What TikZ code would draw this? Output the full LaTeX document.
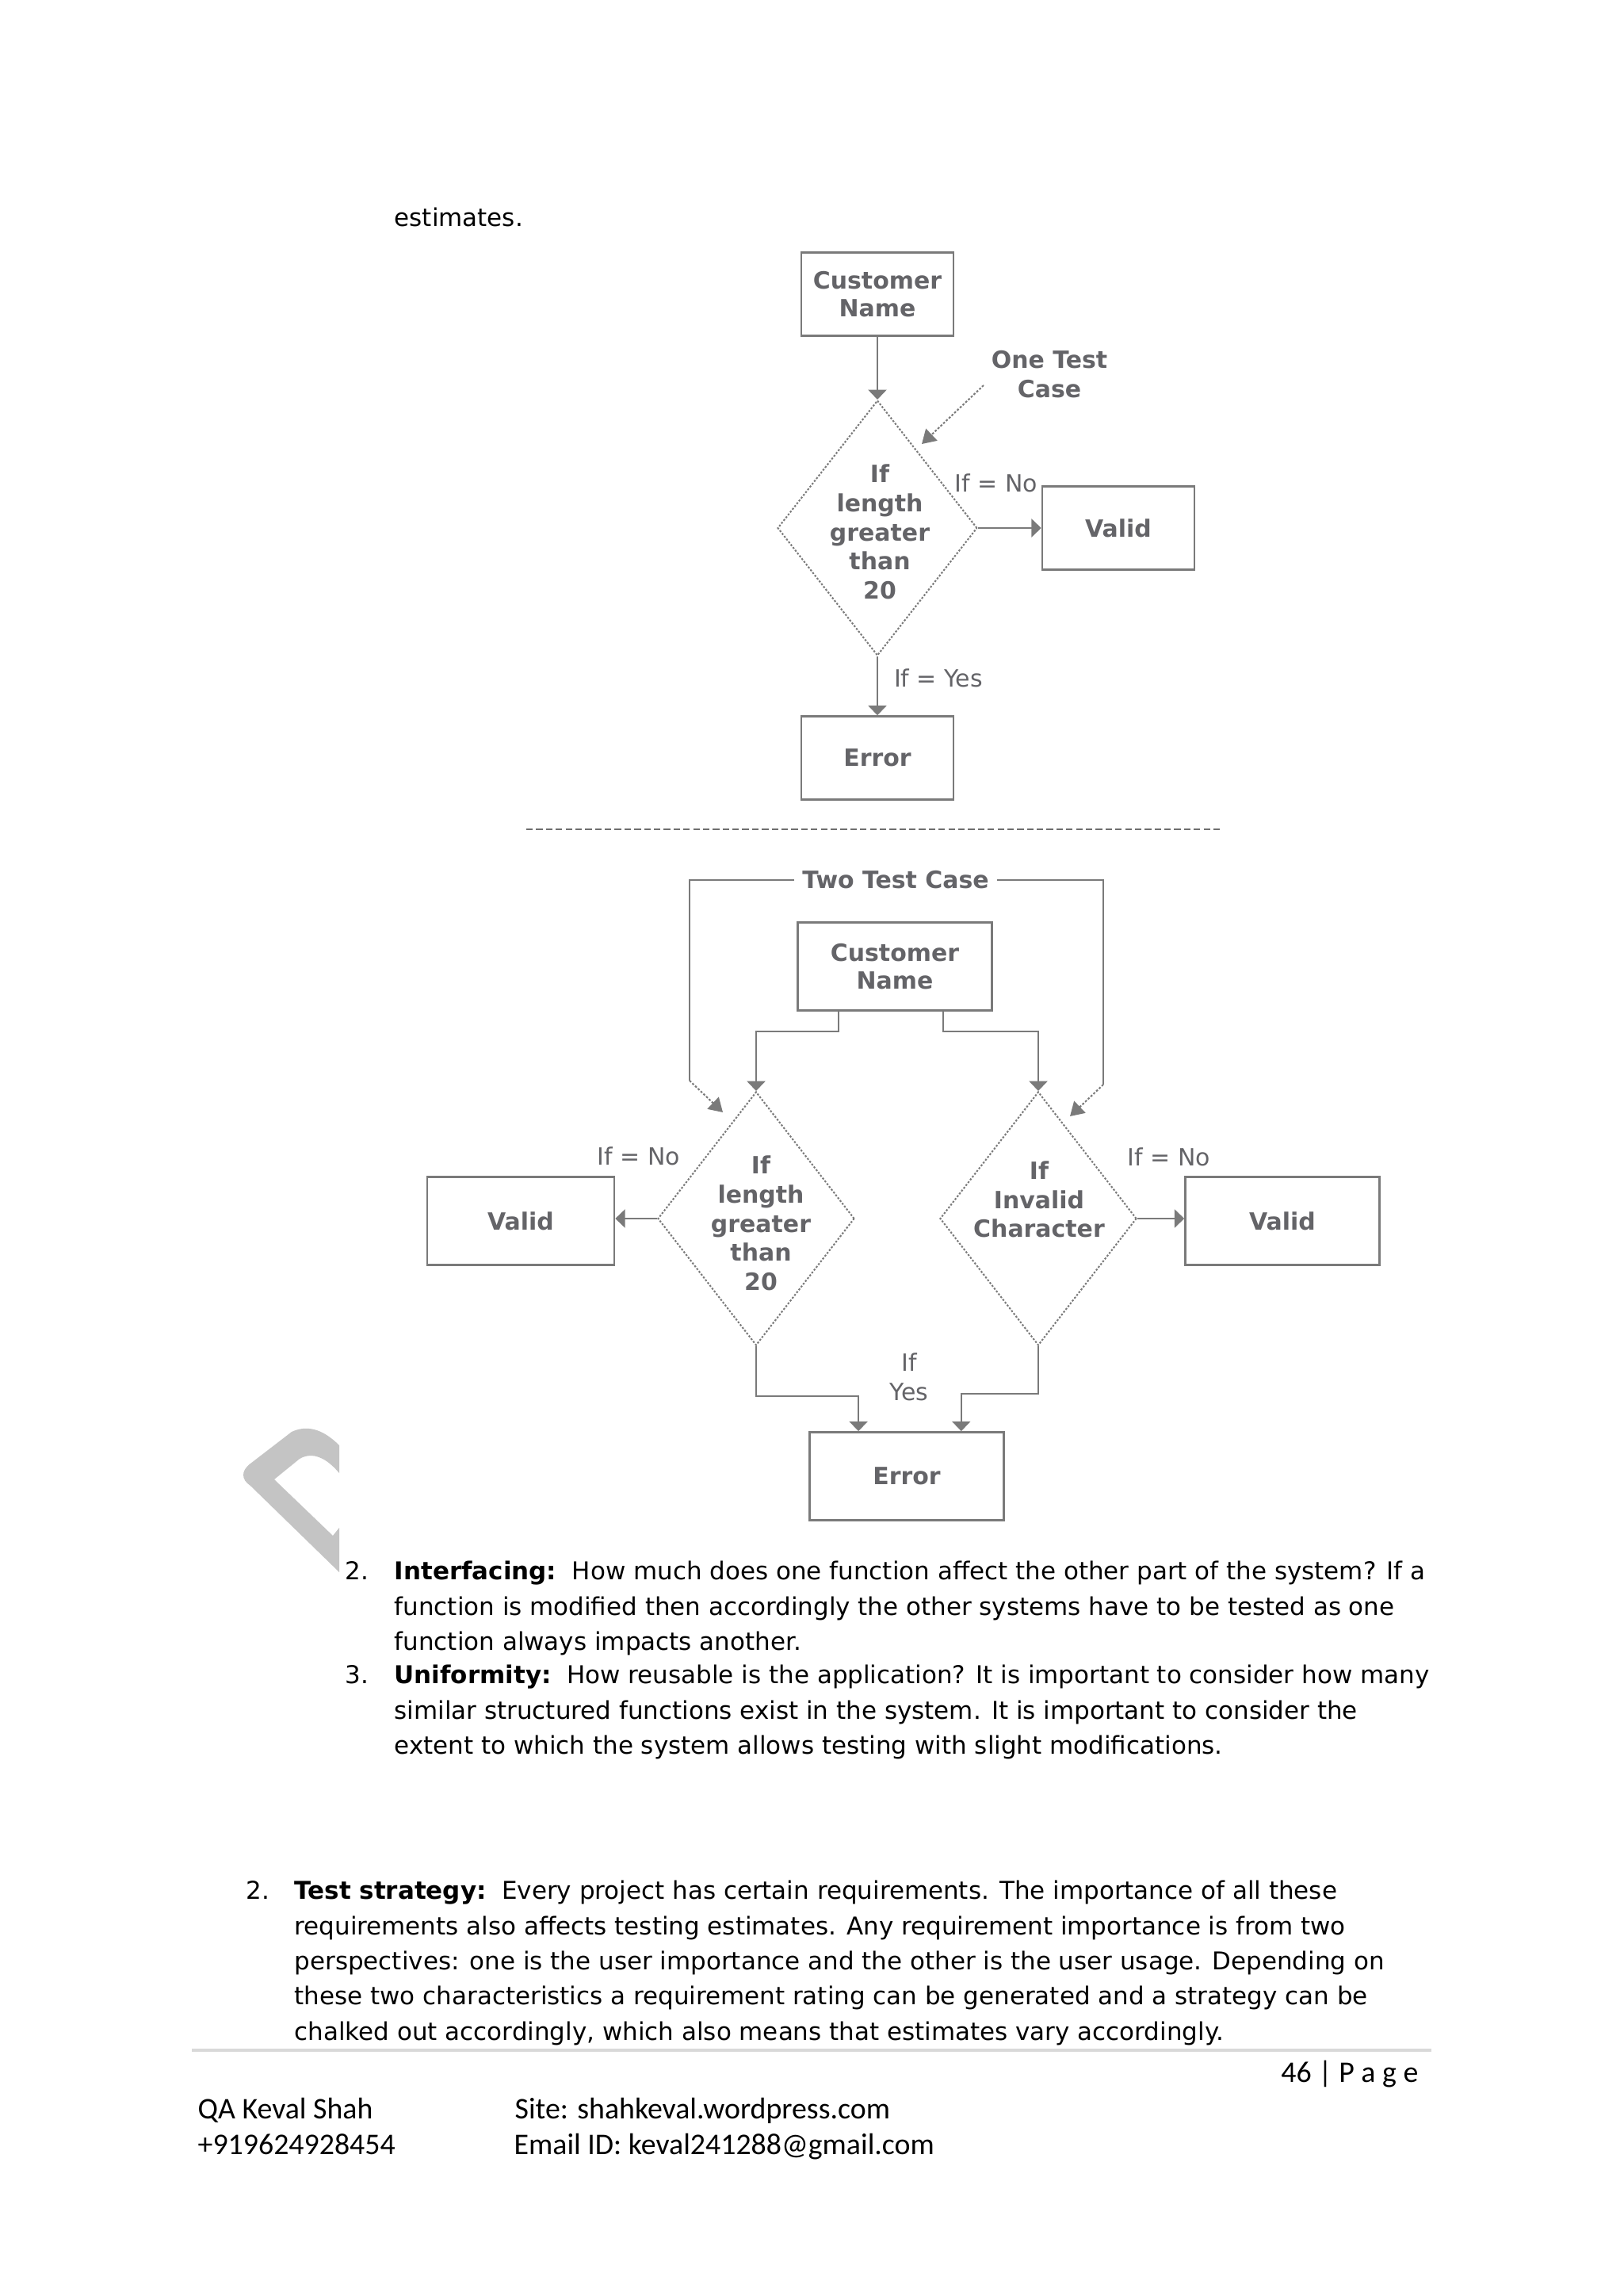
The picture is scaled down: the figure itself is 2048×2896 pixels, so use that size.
\documentclass[tikz,border=0pt]{standalone}
\usepackage{fontspec}
\setmainfont{DejaVu Sans}
\newfontfamily\footfont{Carlito}
\usetikzlibrary{shapes.geometric,arrows.meta}
\definecolor{flow}{RGB}{122,122,122}
\definecolor{flowtext}{RGB}{100,100,104}
\definecolor{rulegray}{RGB}{217,217,217}
\definecolor{wmark}{RGB}{196,196,196}

\begin{document}
\begin{tikzpicture}[x=0.29067pt, y=-0.29067pt,
box/.style={draw=flow, line width=0.75pt, minimum width=55.8pt, minimum height=30.5pt,
    inner sep=0pt, align=center, text=flowtext, font=\fontsize{8.7}{10.3}\selectfont\bfseries},
bigbox/.style={box, minimum width=71.2pt, minimum height=32.3pt},
decision/.style={diamond, draw=flow, line width=0.6pt, dash pattern=on 0.7pt off 0.6pt,
    minimum width=73.2pt, minimum height=93.6pt, inner sep=0pt},
dtext/.style={align=center, text=flowtext, font=\fontsize{8.7}{10.7}\selectfont\bfseries, inner sep=0pt},
lbl/.style={align=center, text=flowtext, font=\fontsize{8.7}{10.7}\selectfont, inner sep=0pt},
link/.style={draw=flow, line width=0.75pt},
arr/.style={link, -{Triangle[width=6.7pt, length=3.6pt]}},
hint/.style={draw=flow, line width=0.6pt, dash pattern=on 0.8pt off 0.6pt,
    -{Triangle[width=6pt, length=5pt]}},
body/.style={inner sep=0pt, font=\fontsize{9}{12.9}\selectfont},
para/.style={body, anchor=north west, align=left},
foot/.style={inner sep=0pt, anchor=base west, font=\footfont\fontsize{11}{13.4}\selectfont}]

\path[fill=white] (0,0) rectangle (2048,2896);
\useasboundingbox (0,0) rectangle (2048,2896);

% watermark piece at the left margin
\fill[wmark] (428,1823) .. controls (405,1800) and (385,1798) .. (368,1806) -- (316,1846)
  .. controls (304,1855) and (304,1866) .. (316,1874) -- (428,1983) -- (428,1927)
  -- (420,1937) -- (346,1866) -- (378,1840) .. controls (395,1830) and (413,1840) .. (428,1858) -- cycle;

\node[body, anchor=base west] (est) at (497,285) {estimates.};

% one test case
\node[box] (cn1) at (1107,371) {Customer\\Name};
\node[decision] (d1) at (1107,666) {};
\node[dtext] (d1t) at (1110,671) {If\\length\\greater\\than\\20};
\node[box] (v1) at (1411,666) {Valid};
\node[box] (e1) at (1107,956) {Error};
\node[dtext] (otc) at (1324,472) {One Test\\Case};
\node[lbl] (no1) at (1257,609) {If = No};
\node[lbl] (yes1) at (1184,855) {If = Yes};
\coordinate (otcA) at (1241,486);
\coordinate (otcB) at (1163,560);
\draw[arr] (cn1.south) -- (d1.north);
\draw[arr] (d1.east) -- (v1.west);
\draw[arr] (d1.south) -- (e1.north);
\draw[hint] (otcA) -- (otcB);

\draw[flow!90!black, line width=0.5pt, dash pattern=on 2.4pt off 1.2pt] (664,1046) -- (1543,1046);

% two test case
\node[dtext, inner sep=2.8pt] (ttc) at (1130,1110) {Two Test Case};
\node[bigbox] (cn2) at (1129,1219) {Customer\\Name};
\node[decision, minimum width=72.1pt, minimum height=93pt] (dl) at (954,1537) {};
\node[decision, minimum width=72.1pt, minimum height=93pt] (dr) at (1310,1537) {};
\node[dtext] (dlt) at (960,1543) {If\\length\\greater\\than\\20};
\node[dtext] (drt) at (1311,1513) {If\\Invalid\\Character};
\node[bigbox, minimum width=68.6pt] (vl) at (657,1540) {Valid};
\node[bigbox] (vr) at (1618,1540) {Valid};
\node[bigbox] (e2) at (1144,1862) {Error};
\node[lbl] (nol) at (806,1458) {If = No};
\node[lbl] (nor) at (1475,1459) {If = No};
\node[lbl] (yes2) at (1147,1737) {If\\Yes};
\coordinate (lpl) at (870,1363);
\coordinate (lplt) at (912,1403);
\coordinate (lpr) at (1392,1368);
\coordinate (lprt) at (1350,1408);
\draw[link] (ttc.west) -| (lpl);
\draw[link] (ttc.east) -| (lpr);
\draw[hint] (lpl) -- (lplt);
\draw[hint] (lpr) -- (lprt);
\draw[arr] ([xshift=-20.6pt]cn2.south) -- ++(0,25) -| (dl.north);
\draw[arr] ([xshift=17.7pt]cn2.south) -- ++(0,25) -| (dr.north);
\draw[arr] (dl.west) -- (dl.west -| vl.east);
\draw[arr] (dr.east) -- (dr.east -| vr.west);
\draw[arr] (dl.south) -- ++(0,63) -| ([xshift=-17.7pt]e2.north);
\draw[arr] (dr.south) -- ++(0,60) -| ([xshift=20pt]e2.north);

% text below the pictures
\node[body, anchor=base west] (n2a) at (435,1992) {2.};
\node[para] (intf) at (497,1968.5) {\textbf{Interfacing:}\ \ How much does one function affect the other part of the system? If a\\
function is modified then accordingly the other systems have to be tested as one\\
function always impacts another.};
\node[body, anchor=base west] (n3) at (435,2123) {3.};
\node[para] (unif) at (497,2099.5) {\textbf{Uniformity:}\ \ How reusable is the application? It is important to consider how many\\
similar structured functions exist in the system. It is important to consider the\\
extent to which the system allows testing with slight modifications.};
\node[body, anchor=base west] (n2b) at (310,2395) {2.};
\node[para] (strat) at (371,2371.5) {\textbf{Test strategy:}\ \ Every project has certain requirements. The importance of all these\\
requirements also affects testing estimates. Any requirement importance is from two\\
perspectives: one is the user importance and the other is the user usage. Depending on\\
these two characteristics a requirement rating can be generated and a strategy can be\\
chalked out accordingly, which also means that estimates vary accordingly.};

% footer
\draw[rulegray, line width=1.2pt] (242,2586) -- (1806,2586);
\node[foot, anchor=base east] (pg) at (1790,2626) {46 | P a g e};
\node[foot] (auth) at (249,2672) {QA Keval Shah};
\node[foot] (site) at (649,2672) {Site: shahkeval.wordpress.com};
\node[foot] (tel) at (249,2717) {+919624928454};
\node[foot] (mail) at (648,2717) {Email ID: keval241288@gmail.com};
\end{tikzpicture}
\end{document}
